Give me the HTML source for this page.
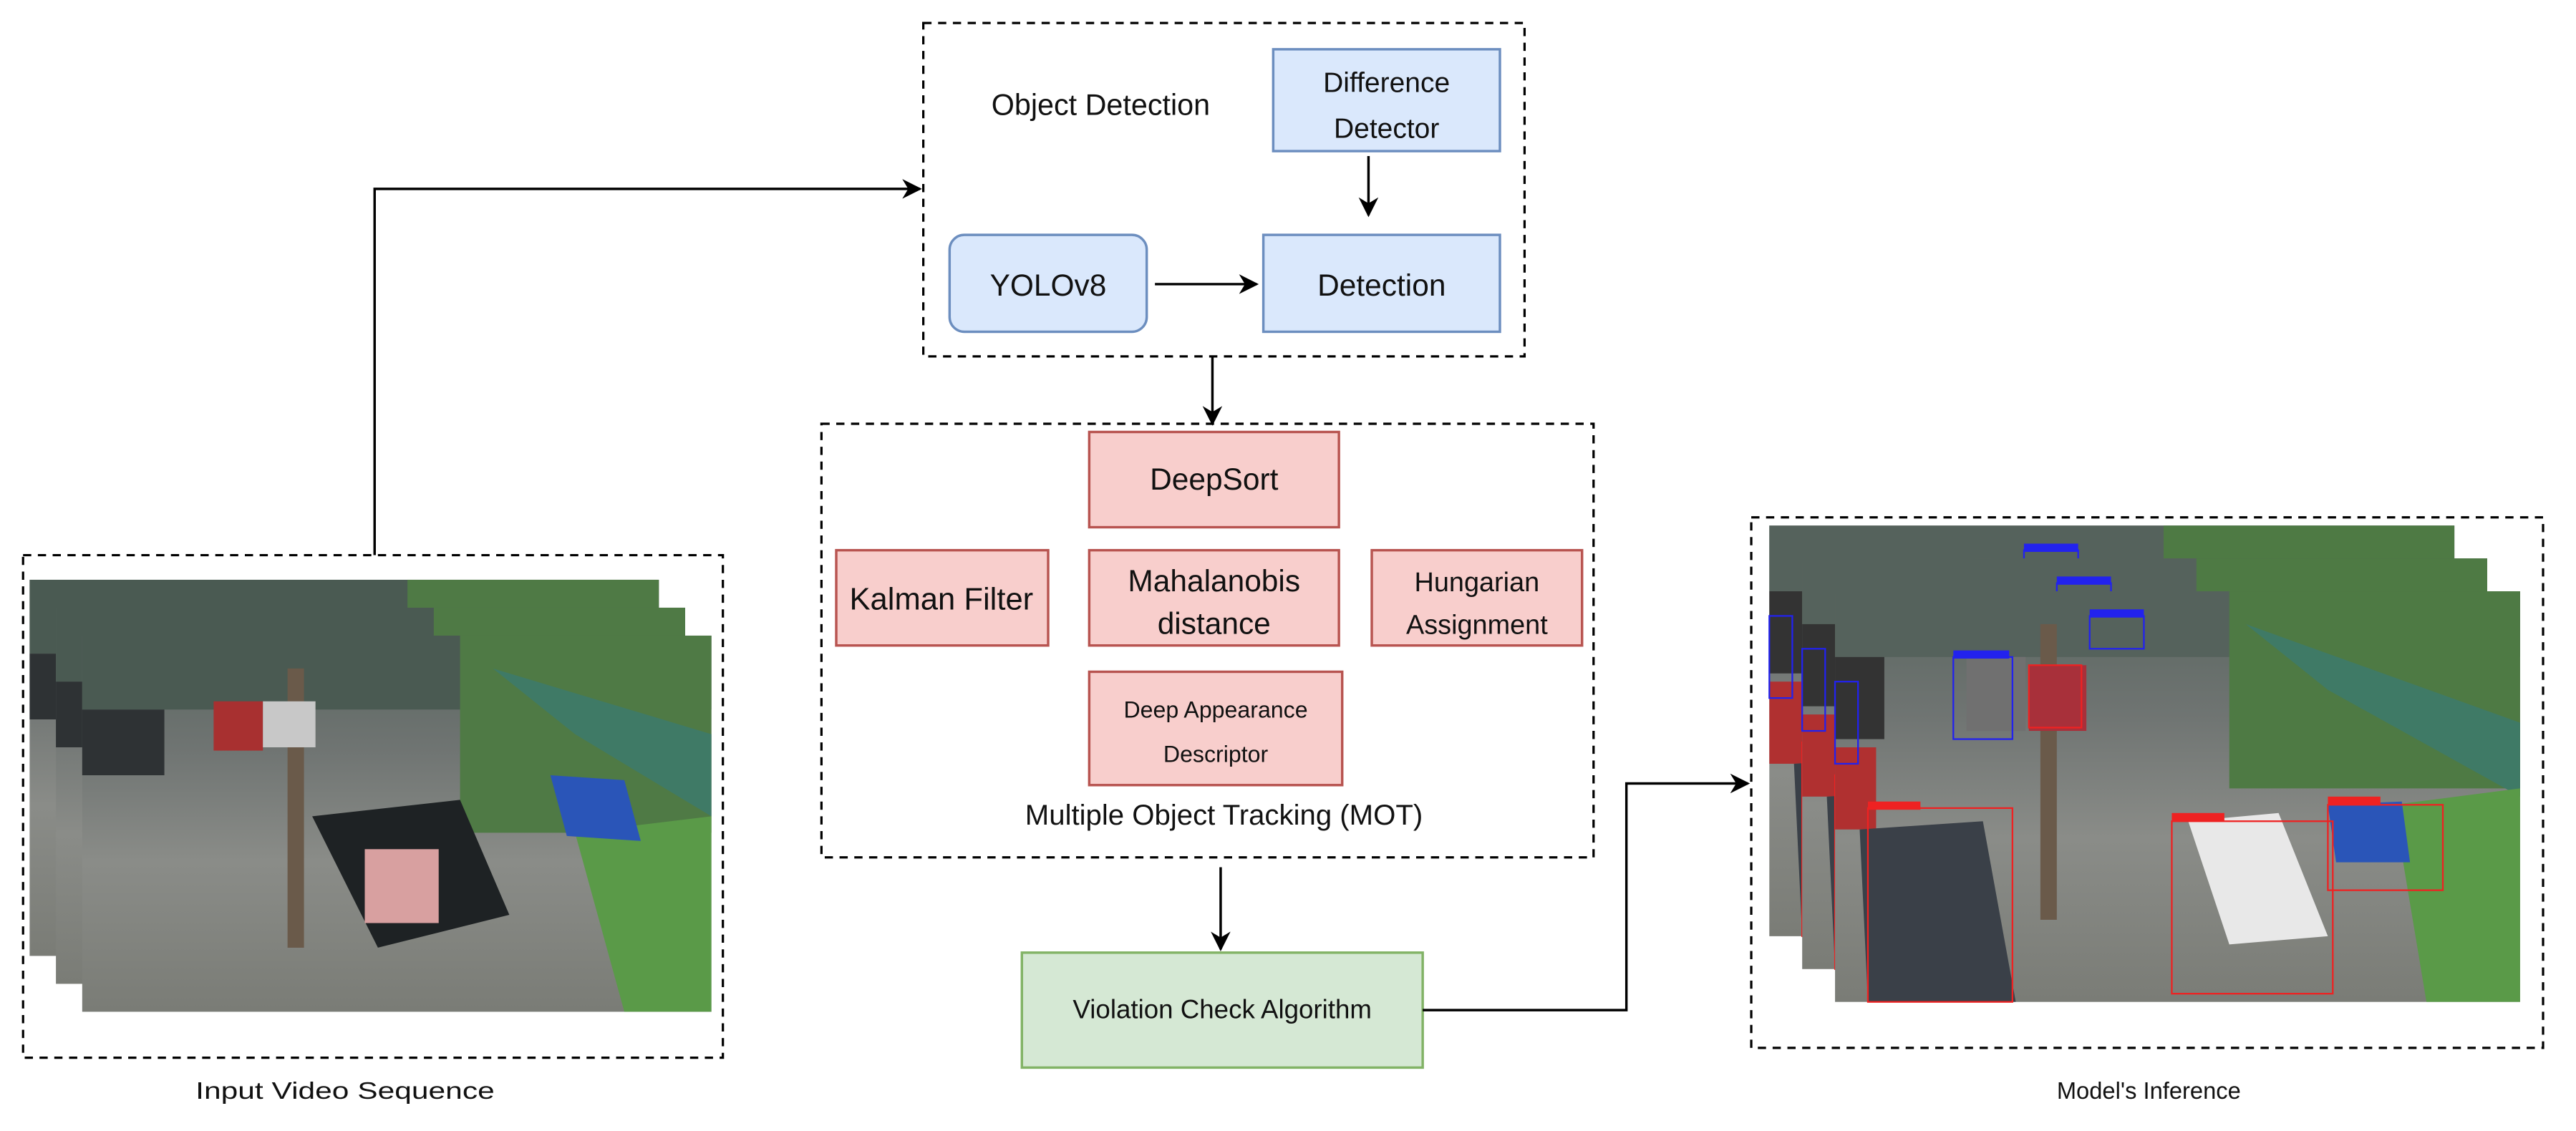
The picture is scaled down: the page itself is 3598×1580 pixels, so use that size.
<!DOCTYPE html>
<html><head><meta charset="utf-8"><style>
html,body{margin:0;padding:0;background:#fff;}
svg{display:block;}
text{font-family:"Liberation Sans",Helvetica,Arial,sans-serif;fill:#111;}
</style></head><body>
<svg width="3598" height="1580" viewBox="0 0 1568 688.6" xmlns="http://www.w3.org/2000/svg">
<defs>
<marker id="ah" viewBox="0 0 10 10" refX="9" refY="5" markerWidth="14" markerHeight="12" orient="auto" markerUnits="userSpaceOnUse">
<path d="M0,0 L10,5 L0,10 L3,5 z" fill="#000"/></marker>
<linearGradient id="pave" x1="0" y1="0" x2="0" y2="1">
<stop offset="0" stop-color="#5a6660"/><stop offset="0.3" stop-color="#6f7472"/><stop offset="0.6" stop-color="#8a8c88"/><stop offset="1" stop-color="#7a7c76"/></linearGradient>
<g id="sceneL">
<rect x="0" y="0" width="383" height="229" fill="url(#pave)"/>
<rect x="0" y="0" width="383" height="45" fill="#4a5a52"/>
<rect x="230" y="0" width="153" height="120" fill="#4f7a45"/>
<polygon points="250,20 383,60 383,110 300,60" fill="#3f7a66"/>
<polygon points="300,120 383,110 383,229 330,229" fill="#5a9a48"/>
<rect x="125" y="20" width="10" height="170" fill="#6a5a4a"/>
<rect x="80" y="40" width="30" height="30" fill="#a83030"/>
<rect x="110" y="40" width="32" height="28" fill="#c8c8c8"/>
<polygon points="140,110 230,100 260,170 180,190" fill="#1e2224"/>
<rect x="172" y="130" width="45" height="45" fill="#d8a0a0"/>
<polygon points="285,85 330,88 340,125 295,122" fill="#2a55b8"/>
<rect x="0" y="45" width="50" height="40" fill="#2e3234"/>
</g>
<g id="sceneR">
<rect x="0" y="0" width="417" height="250" fill="url(#pave)"/>
<rect x="0" y="0" width="417" height="40" fill="#55625c"/>
<rect x="240" y="0" width="177" height="120" fill="#4e7a44"/>
<polygon points="250,20 417,80 417,125 300,60" fill="#3f7a66"/>
<polygon points="340,130 417,120 417,250 360,250" fill="#5a9a48"/>
<rect x="125" y="20" width="10" height="180" fill="#6a5a4a"/>
<rect x="80" y="40" width="36" height="45" fill="#707070"/>
<rect x="118" y="45" width="35" height="40" fill="#a8303a"/>
<rect x="0" y="40" width="30" height="50" fill="#333"/>
<rect x="0" y="95" width="25" height="50" fill="#b03030"/>
<polygon points="15,145 90,140 110,250 20,250" fill="#3a4048"/>
<polygon points="215,140 270,135 300,210 240,215" fill="#e8e8e8"/>
<polygon points="300,130 345,128 350,165 305,165" fill="#2a55b8"/>
<rect x="20" y="132" width="88" height="118" fill="none" stroke="#e22" stroke-width="1"/>
<rect x="20" y="128" width="32" height="5" fill="#e22"/>
<rect x="205" y="140" width="98" height="105" fill="none" stroke="#e22" stroke-width="1"/>
<rect x="205" y="135" width="32" height="5" fill="#e22"/>
<rect x="300" y="130" width="70" height="52" fill="none" stroke="#e22" stroke-width="1"/>
<rect x="300" y="125" width="32" height="5" fill="#e22"/>
<rect x="72" y="40" width="36" height="50" fill="none" stroke="#22e" stroke-width="1"/>
<rect x="72" y="36" width="34" height="5" fill="#22e"/>
<rect x="118" y="45" width="32" height="38" fill="none" stroke="#e22" stroke-width="1"/>
<rect x="155" y="15" width="33" height="20" fill="none" stroke="#22e" stroke-width="1"/>
<rect x="155" y="11" width="33" height="5" fill="#22e"/>
<rect x="0" y="55" width="14" height="50" fill="none" stroke="#22e" stroke-width="1"/>
</g>
</defs>

<rect x="14" y="338" width="426" height="306" fill="none" stroke="#000" stroke-width="1.4" stroke-dasharray="5,4"/>
<use href="#sceneL" x="18" y="353"/>
<use href="#sceneL" x="34" y="370"/>
<use href="#sceneL" x="50" y="387"/>
<text x="210" y="669" font-size="14.5" text-anchor="middle" textLength="182" lengthAdjust="spacingAndGlyphs">Input Video Sequence</text>

<rect x="1066" y="315" width="482" height="323" fill="none" stroke="#000" stroke-width="1.4" stroke-dasharray="5,4"/>
<use href="#sceneR" x="1077" y="320"/>
<use href="#sceneR" x="1097" y="340"/>
<use href="#sceneR" x="1117" y="360"/>
<text x="1308" y="669" font-size="14.5" text-anchor="middle" textLength="112" lengthAdjust="spacingAndGlyphs">Model's Inference</text>

<rect x="562" y="14" width="366" height="203" fill="none" stroke="#000" stroke-width="1.4" stroke-dasharray="5,4"/>
<text x="670" y="70" font-size="18" text-anchor="middle">Object Detection</text>
<rect x="775" y="30" width="138" height="62" fill="#dae8fc" stroke="#6c8ebf" stroke-width="1.5"/>
<text x="844" y="56" font-size="17" text-anchor="middle">Difference</text>
<text x="844" y="84" font-size="17" text-anchor="middle">Detector</text>
<line x1="833" y1="95" x2="833" y2="131" stroke="#000" stroke-width="1.5" marker-end="url(#ah)"/>
<rect x="578" y="143" width="120" height="59" rx="9" fill="#dae8fc" stroke="#6c8ebf" stroke-width="1.5"/>
<text x="638" y="180" font-size="18.5" text-anchor="middle">YOLOv8</text>
<rect x="769" y="143" width="144" height="59" fill="#dae8fc" stroke="#6c8ebf" stroke-width="1.5"/>
<text x="841" y="180" font-size="18.5" text-anchor="middle">Detection</text>
<line x1="703" y1="173" x2="765" y2="173" stroke="#000" stroke-width="1.5" marker-end="url(#ah)"/>

<line x1="738" y1="217" x2="738" y2="258" stroke="#000" stroke-width="1.5" marker-end="url(#ah)"/>

<rect x="500" y="258" width="470" height="264" fill="none" stroke="#000" stroke-width="1.4" stroke-dasharray="5,4"/>
<rect x="663" y="263" width="152" height="58" fill="#f8cecc" stroke="#b85450" stroke-width="1.5"/>
<text x="739" y="298" font-size="18.5" text-anchor="middle">DeepSort</text>
<rect x="509" y="335" width="129" height="58" fill="#f8cecc" stroke="#b85450" stroke-width="1.5"/>
<text x="573" y="371" font-size="19" text-anchor="middle">Kalman Filter</text>
<rect x="663" y="335" width="152" height="58" fill="#f8cecc" stroke="#b85450" stroke-width="1.5"/>
<text x="739" y="360" font-size="18.5" text-anchor="middle">Mahalanobis</text>
<text x="739" y="386" font-size="18.5" text-anchor="middle">distance</text>
<rect x="835" y="335" width="128" height="58" fill="#f8cecc" stroke="#b85450" stroke-width="1.5"/>
<text x="899" y="360" font-size="16.5" text-anchor="middle">Hungarian</text>
<text x="899" y="386" font-size="16.5" text-anchor="middle">Assignment</text>
<rect x="663" y="409" width="154" height="69" fill="#f8cecc" stroke="#b85450" stroke-width="1.5"/>
<text x="740" y="437" font-size="14" text-anchor="middle">Deep Appearance</text>
<text x="740" y="464" font-size="14" text-anchor="middle">Descriptor</text>
<text x="745" y="502" font-size="17.5" text-anchor="middle">Multiple Object Tracking (MOT)</text>

<line x1="743" y1="528" x2="743" y2="578" stroke="#000" stroke-width="1.5" marker-end="url(#ah)"/>

<rect x="622" y="580" width="244" height="70" fill="#d5e8d4" stroke="#82b366" stroke-width="1.5"/>
<text x="744" y="620" font-size="16" text-anchor="middle">Violation Check Algorithm</text>

<polyline points="866,615 990,615 990,477 1064,477" fill="none" stroke="#000" stroke-width="1.5" marker-end="url(#ah)"/>
<polyline points="228,338 228,115 560,115" fill="none" stroke="#000" stroke-width="1.5" marker-end="url(#ah)"/>
</svg>
</body></html>
